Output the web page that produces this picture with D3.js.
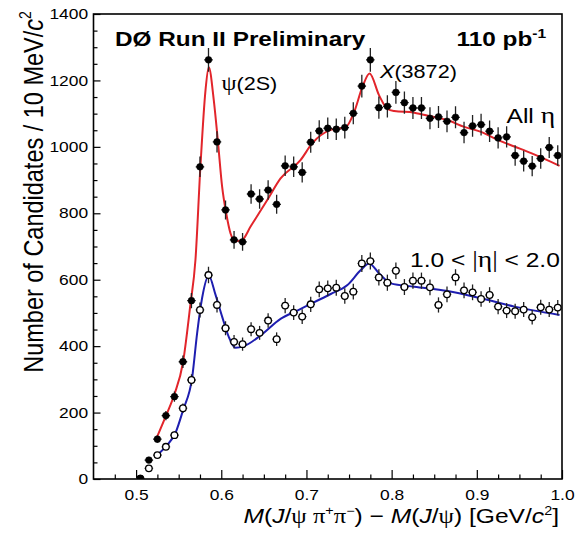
<!DOCTYPE html>
<html>
<head>
<meta charset="utf-8">
<script src="https://cdn.jsdelivr.net/npm/d3@7"></script>
<style>
  body { margin: 0; background: #fff; }
  text { font-family: "Liberation Sans", Arial, Helvetica, sans-serif; fill: #000; }
  .serif { font-family: "Liberation Serif", "DejaVu Serif", serif; }
</style>
</head>
<body>
<script>
// bin centres, 10 MeV bins
var binCenters = [0.505, 0.515, 0.525, 0.535, 0.545, 0.555, 0.565, 0.575, 0.585, 0.595,
                  0.605, 0.615, 0.625, 0.635, 0.645, 0.655, 0.665, 0.675, 0.685, 0.695,
                  0.705, 0.715, 0.725, 0.735, 0.745, 0.755, 0.765, 0.775, 0.785, 0.795,
                  0.805, 0.815, 0.825, 0.835, 0.845, 0.855, 0.865, 0.875, 0.885, 0.895,
                  0.905, 0.915, 0.925, 0.935, 0.945, 0.955, 0.965, 0.975, 0.985, 0.995];

// All eta (filled points)
var allEta = [2, 57, 120, 191, 248, 353, 537, 940, 1262, 1015,
              810, 720, 714, 858, 843, 870, 827, 943, 940, 923,
              1014, 1048, 1056, 1053, 1058, 1101, 1183, 1262, 1118, 1122,
              1164, 1133, 1117, 1117, 1086, 1090, 1077, 1089, 1043, 1063,
              1067, 1047, 1027, 1030, 974, 957, 942, 965, 998, 974];

// 1.0 < |eta| < 2.0 (open points)
var fwdEta = [1, 32, 72, 97, 132, 213, 298, 509, 614, 524,
              454, 413, 406, 451, 440, 477, 421, 522, 501, 489,
              526, 571, 574, 576, 551, 564, 649, 656, 607, 591,
              627, 578, 597, 597, 577, 524, 556, 607, 568, 562,
              542, 554, 519, 507, 505, 510, 487, 517, 510, 516];

// fit curves
var redFitX = [0.524, 0.535, 0.545, 0.555, 0.5635, 0.5697, 0.5755, 0.5815, 0.5853, 0.5912,
               0.5959, 0.601, 0.6058, 0.6108, 0.6167, 0.6246, 0.6344, 0.654, 0.6696, 0.693,
               0.7069, 0.7285, 0.7461, 0.7559, 0.7658, 0.7741, 0.7853, 0.7952, 0.8029, 0.8265,
               0.846, 0.8658, 0.8853, 0.905, 0.9246, 0.9441, 0.9638, 0.9971];
var redFitY = [123, 190, 255, 350, 520, 660, 940, 1171, 1240, 1141,
               1021, 880, 800, 740, 716, 720, 760, 840, 905, 960,
               1011, 1051, 1059, 1104, 1181, 1221, 1155, 1114, 1108, 1103,
               1092, 1080, 1060, 1045, 1021, 1001, 981, 943];

var blueFitX = [0.5246, 0.5364, 0.5461, 0.5552, 0.5658, 0.5717, 0.5775, 0.5853, 0.5932, 0.601,
                0.6088, 0.6167, 0.6265, 0.6461, 0.6696, 0.6893, 0.7088, 0.7285, 0.7481, 0.7638,
                0.7735, 0.7853, 0.799, 0.8265, 0.8658, 0.9049, 0.9441, 0.9971];
var blueFitY = [72, 102, 138, 208, 305, 440, 545, 612, 555, 489,
                428, 395, 400, 432, 482, 507, 532, 557, 584, 629,
                649, 619, 589, 579, 566, 544, 519, 494];

var xMajorTicks = [0.5, 0.6, 0.7, 0.8, 0.9, 1.0];
var xMinorTicks = [0.475, 0.525, 0.55, 0.575, 0.625, 0.65, 0.675, 0.725, 0.75, 0.775,
                   0.825, 0.85, 0.875, 0.925, 0.95, 0.975];
var yMajorTicks = [0, 200, 400, 600, 800, 1000, 1200, 1400];
var yMinorTicks = [50, 100, 150, 250, 300, 350, 450, 500, 550, 650, 700, 750,
                   850, 900, 950, 1050, 1100, 1150, 1250, 1300, 1350];

var W = 586, H = 535;
var mLeft = 93.5, mRight = 562, mTop = 14, mBottom = 479;
var SX = 1.2; // picture is stretched horizontally

var svg = d3.select("body").append("svg")
    .attr("width", W).attr("height", H);

var x = d3.scaleLinear().domain([0.45, 1.0]).range([mLeft, mRight]);
var y = d3.scaleLinear().domain([0, 1400]).range([mBottom, mTop]);

svg.append("clipPath").attr("id", "plotclip")
    .append("rect").attr("x", mLeft).attr("y", mTop)
    .attr("width", mRight - mLeft).attr("height", mBottom - mTop);

// frame
svg.append("rect")
    .attr("x", mLeft).attr("y", mTop)
    .attr("width", mRight - mLeft).attr("height", mBottom - mTop)
    .attr("fill", "none").attr("stroke", "#000").attr("stroke-width", 1.6);

// x axis
var gx = svg.append("g").attr("transform", "translate(0," + mBottom + ")");
gx.call(d3.axisBottom(x).tickValues(xMajorTicks).tickSizeInner(-9).tickSizeOuter(0)
    .tickPadding(11).tickFormat(d3.format(".1f")));
gx.append("g").call(d3.axisBottom(x).tickValues(xMinorTicks).tickSizeInner(-4.5)
    .tickSizeOuter(0).tickFormat(""));

// y axis
var gy = svg.append("g").attr("transform", "translate(" + mLeft + ",0)");
gy.call(d3.axisLeft(y).tickValues(yMajorTicks).tickSizeInner(-7).tickSizeOuter(0)
    .tickPadding(4.5).tickFormat(d3.format("d")));
gy.append("g").call(d3.axisLeft(y).tickValues(yMinorTicks).tickSizeInner(-4)
    .tickSizeOuter(0).tickFormat(""));

svg.selectAll(".domain").remove();
svg.selectAll(".tick line").attr("stroke", "#000").attr("stroke-width", 1.2);
svg.selectAll(".tick text")
    .attr("font-size", 14.5)
    .attr("font-family", "Liberation Sans, Arial, sans-serif")
    .attr("fill", "#000")
    .attr("transform", "scale(" + SX + ",1)");

// fit curves
var plot = svg.append("g").attr("clip-path", "url(#plotclip)");

var line = d3.line()
    .x(d => x(d[0]))
    .y(d => y(d[1]))
    .curve(d3.curveMonotoneX);

plot.append("path")
    .datum(d3.zip(redFitX, redFitY))
    .attr("d", line)
    .attr("fill", "none").attr("stroke", "#e2252b").attr("stroke-width", 2);

plot.append("path")
    .datum(d3.zip(blueFitX, blueFitY))
    .attr("d", line)
    .attr("fill", "none").attr("stroke", "#1e1eb0").attr("stroke-width", 2);

// data points with statistical error bars
function drawPoints(values, filled) {
    var pts = binCenters.map((c, i) => ({ x: c, v: values[i] }));
    var g = plot.append("g");
    g.selectAll(".ey").data(pts).enter().append("line")
        .attr("x1", d => x(d.x)).attr("x2", d => x(d.x))
        .attr("y1", d => y(d.v + Math.sqrt(d.v)))
        .attr("y2", d => y(d.v - Math.sqrt(d.v)))
        .attr("stroke", "#222").attr("stroke-width", 1.3);
    g.selectAll(".ex").data(pts).enter().append("line")
        .attr("x1", d => x(d.x - 0.005)).attr("x2", d => x(d.x + 0.005))
        .attr("y1", d => y(d.v)).attr("y2", d => y(d.v))
        .attr("stroke", "#222").attr("stroke-width", 1.3);
    g.selectAll(".pt").data(pts).enter().append("circle")
        .attr("cx", d => x(d.x)).attr("cy", d => y(d.v))
        .attr("r", filled ? 3.4 : 3.3)
        .attr("fill", filled ? "#000" : "#fff")
        .attr("stroke", "#000").attr("stroke-width", filled ? 0.5 : 1.3);
}
drawPoints(fwdEta, false);
drawPoints(allEta, true);

// text helper, horizontally stretched like the original picture
function label(px, py, size, weight) {
    return svg.append("text")
        .attr("transform", "translate(" + px + "," + py + ") scale(" + SX + ",1)")
        .attr("font-size", size)
        .attr("font-weight", weight || "normal");
}

var t1 = label(115, 45.5, 20.3, "bold");
t1.text("DØ Run II Preliminary");

var t2 = label(456.5, 45.5, 20.3, "bold");
t2.append("tspan").text("110 pb");
t2.append("tspan").attr("font-size", 13).attr("dy", -8).text("-1");

var t3 = label(221.5, 89.5, 18);
t3.append("tspan").attr("class", "serif").attr("font-size", 20).text("ψ");
t3.append("tspan").text("(2S)");

var t4 = label(380, 78, 18);
t4.append("tspan").attr("font-style", "italic").text("X");
t4.append("tspan").text("(3872)");

var t5 = label(506.5, 122.5, 20.5);
t5.append("tspan").text("All ");
t5.append("tspan").attr("class", "serif").attr("font-size", 23).text("η");

var t6 = label(410, 267, 20.5);
t6.append("tspan").text("1.0 < ");
t6.append("tspan").attr("class", "serif").attr("font-size", 23).text("|η|");
t6.append("tspan").text(" < 2.0");

// x axis title
var tx = svg.append("text")
    .attr("transform", "translate(559,523) scale(" + SX + ",1)")
    .attr("text-anchor", "end")
    .attr("font-size", 20.5);
tx.append("tspan").attr("font-style", "italic").text("M");
tx.append("tspan").text("(");
tx.append("tspan").attr("font-style", "italic").text("J");
tx.append("tspan").text("/");
tx.append("tspan").attr("class", "serif").text("ψ π");
tx.append("tspan").attr("font-size", 12).attr("dy", -8).text("+");
tx.append("tspan").attr("class", "serif").attr("dy", 8).text("π");
tx.append("tspan").attr("font-size", 12).attr("dy", -8).text("−");
tx.append("tspan").attr("dy", 8).text(") − ");
tx.append("tspan").attr("font-style", "italic").text("M");
tx.append("tspan").text("(");
tx.append("tspan").attr("font-style", "italic").text("J");
tx.append("tspan").text("/");
tx.append("tspan").attr("class", "serif").text("ψ");
tx.append("tspan").text(") [GeV/");
tx.append("tspan").attr("font-style", "italic").text("c");
tx.append("tspan").attr("font-size", 12).attr("dy", -8).text("2");
tx.append("tspan").attr("dy", 8).text("]");

// y axis title
var ty = svg.append("text")
    .attr("transform", "translate(43,192) scale(" + SX + ",1) rotate(-90)")
    .attr("text-anchor", "middle")
    .attr("font-size", 23.5);
ty.append("tspan").text("Number of Candidates / 10 MeV/");
ty.append("tspan").attr("font-style", "italic").text("c");
ty.append("tspan").attr("font-size", 14).attr("dy", -10).text("2");
</script>
</body>
</html>
